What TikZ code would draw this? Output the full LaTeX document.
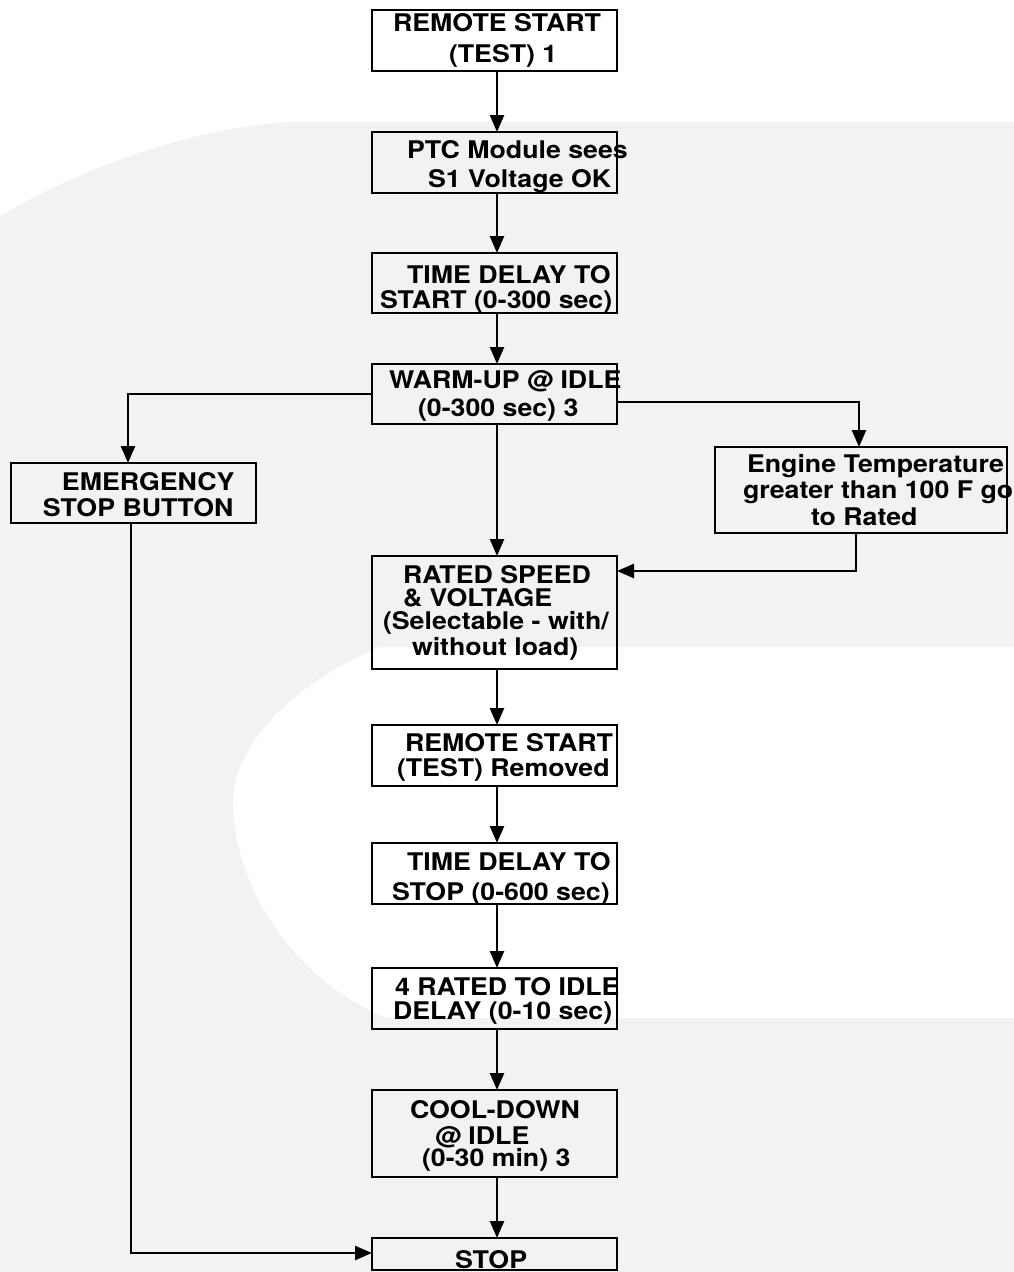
\documentclass[tikz,border=0pt]{standalone}
\usepackage{fontspec}
\setmainfont{TeX Gyre Heros}[FakeStretch=1.10]
\usetikzlibrary{arrows.meta,calc}
\definecolor{wm}{HTML}{F2F2F2}
\setlength{\unitlength}{1pt}
\newcommand\bxfont{\fontsize{24.3}{28}\selectfont\bfseries}
\tikzset{
  box/.style={draw=black, line width=2.8pt, inner sep=0pt, outer sep=0pt,
              anchor=north west, font=\bxfont},
  arr/.style={line width=2.5pt, -{Triangle[length=17pt,width=14pt]}},
}
\begin{document}
\begin{tikzpicture}[x=1pt,y=-1pt]
\useasboundingbox (0,0) rectangle (1014,1272);
% watermark background
\fill[white] (0,0) rectangle (1014,1272);
\fill[wm] (0,216) .. controls (80,170) and (180,130) .. (290,122) -- (1014,122)
  -- (1014,1272) -- (0,1272) -- cycle;
\fill[white] (1014,647) -- (380,647) .. controls (300,680) and (235,740) .. (233,800)
  .. controls (232,880) and (290,980) .. (388,1018) -- (1014,1018) -- cycle;

% boxes
\node[box] (b1) at (372,10) {\begin{picture}(245,61)
  \put(21,39.3){REMOTE START}\put(77,8.3){(TEST) 1}\end{picture}};
\node[box] (b2) at (372,132) {\begin{picture}(245,61)
  \put(35,35){PTC Module sees}\put(56,6){S1 Voltage OK}\end{picture}};
\node[box] (b3) at (372,253) {\begin{picture}(245,60)
  \put(35,29.7){TIME DELAY TO}\put(8,4.7){START (0-300 sec)}\end{picture}};
\node[box] (b4) at (372,364) {\begin{picture}(245,60)
  \put(17,35.7){WARM-UP @ IDLE}\put(46,8){(0-300 sec) 3}\end{picture}};
\node[box] (emg) at (11,463) {\begin{picture}(245,60)
  \put(51,33){EMERGENCY}\put(32,7){STOP BUTTON}\end{picture}};
\node[box] (eng) at (715,447) {\begin{picture}(292,86)
  \put(32,60.3){Engine Temperature}\put(28,35){greater than 100 F go}
  \put(96,7.3){to Rated}\end{picture}};
\node[box] (rated) at (372,556) {\begin{picture}(245,113)
  \put(31,86){RATED SPEED}\put(31,62.8){\& VOLTAGE}
  \put(11,39.5){(Selectable - with/}\put(40,13.5){without load)}\end{picture}};
\node[box] (removed) at (372,725) {\begin{picture}(245,61)
  \put(33,34.3){REMOTE START}\put(25,10){(TEST) Removed}\end{picture}};
\node[box] (tds) at (372,843) {\begin{picture}(245,61)
  \put(35,34){TIME DELAY TO}\put(20,4){STOP (0-600 sec)}\end{picture}};
\node[box] (rti) at (372,968) {\begin{picture}(245,61)
  \put(23,34){4 RATED TO IDLE}\put(21,9.7){DELAY (0-10 sec)}\end{picture}};
\node[box] (cool) at (372,1090) {\begin{picture}(245,87)
  \put(38,59){COOL-DOWN}\put(63,33){@ IDLE}\put(50,10.3){(0-30 min) 3}\end{picture}};
\node[box] (stop) at (372,1238) {\begin{picture}(245,32)
  \put(83,1.5){STOP}\end{picture}};

% connectors
\coordinate (col) at (497,0);
\draw[arr] (b1.south -| col) -- (b2.north -| col);
\draw[arr] (b2.south -| col) -- (b3.north -| col);
\draw[arr] (b3.south -| col) -- (b4.north -| col);
\draw[arr] (b4.south -| col) -- (rated.north -| col);
\draw[arr] (rated.south -| col) -- (removed.north -| col);
\draw[arr] (removed.south -| col) -- (tds.north -| col);
\draw[arr] (tds.south -| col) -- (rti.north -| col);
\draw[arr] (rti.south -| col) -- (cool.north -| col);
\draw[arr] (cool.south -| col) -- (stop.north -| col);

\coordinate (ke) at (128,394);
\draw[arr] (b4.west |- ke) -- (ke) -- (emg.north -| ke);
\coordinate (kr) at (859,402);
\draw[arr] (b4.east |- kr) -- (kr) -- (eng.north -| kr);
\coordinate (jr) at (856,571);
\draw[arr] (eng.south -| jr) -- (jr) -- (rated.east |- jr);
\coordinate (js) at (131,1253);
\draw[arr] (emg.south -| js) -- (js) -- (stop.west |- js);
\end{tikzpicture}
\end{document}
